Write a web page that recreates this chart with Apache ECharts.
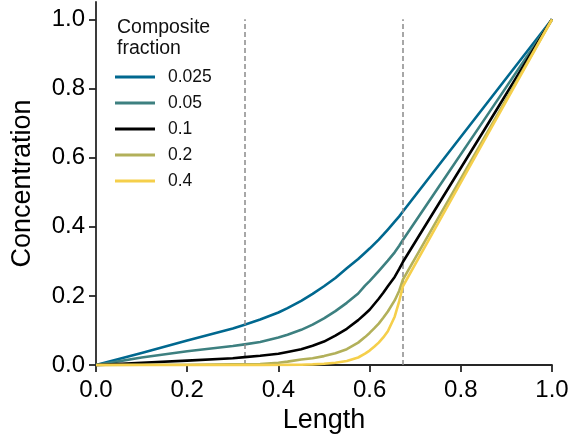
<!DOCTYPE html>
<html>
<head>
<meta charset="utf-8">
<script src="https://cdn.jsdelivr.net/npm/echarts@6/dist/echarts.min.js"></script>
<style>
  html, body { margin: 0; padding: 0; background: #fff; }
  #chart { width: 587px; height: 439px; }
</style>
</head>
<body>
<div id="chart"></div>
<script>
// sample positions along the length (shared by every curve)
const lengths = [0, 0.1, 0.2, 0.3, 0.326, 0.36, 0.4, 0.42, 0.45, 0.475, 0.5, 0.525, 0.55, 0.575, 0.59, 0.6, 0.61, 0.62, 0.63, 0.64, 0.655, 0.665, 0.673, 0.75, 0.85, 1.0];

// concentration, one array per composite fraction
const conc0025 = [0, 0.035, 0.071, 0.106, 0.117, 0.132, 0.152, 0.165, 0.186, 0.206, 0.228, 0.252, 0.28, 0.307, 0.325, 0.337, 0.350, 0.363, 0.377, 0.392, 0.415, 0.43, 0.444, 0.575, 0.745, 1.0];
const conc005  = [0, 0.022, 0.040, 0.055, 0.060, 0.067, 0.080, 0.088, 0.102, 0.117, 0.135, 0.156, 0.180, 0.207, 0.230, 0.243, 0.257, 0.272, 0.287, 0.302, 0.326, 0.345, 0.362, 0.512, 0.707, 1.0];
const conc01   = [0, 0.007, 0.013, 0.020, 0.023, 0.027, 0.033, 0.038, 0.046, 0.056, 0.068, 0.085, 0.105, 0.13, 0.148, 0.160, 0.176, 0.192, 0.209, 0.228, 0.255, 0.278, 0.298, 0.463, 0.677, 1.0];
const conc02   = [0, 0.001, 0.001, 0.002, 0.002, 0.003, 0.007, 0.010, 0.016, 0.020, 0.026, 0.034, 0.046, 0.065, 0.081, 0.093, 0.106, 0.12, 0.137, 0.155, 0.187, 0.215, 0.247, 0.424, 0.654, 1.0];
const conc04   = [0, 0, 0, 0, 0, 0, 0.0005, 0.0007, 0.001, 0.002, 0.004, 0.007, 0.012, 0.022, 0.033, 0.042, 0.053, 0.065, 0.080, 0.098, 0.14, 0.185, 0.228, 0.410, 0.646, 1.0];

const fractionNames = ['0.025', '0.05', '0.1', '0.2', '0.4'];
const fractionColors = ['#00688f', '#3d8080', '#000000', '#b2b05a', '#f5cf4b'];
const fractionValues = [conc0025, conc005, conc01, conc02, conc04];

// boundaries of the middle layer (dashed lines)
const boundaries = [0.326, 0.673];

const xTicks = [0, 0.2, 0.4, 0.6, 0.8, 1.0];
const yTicks = [0, 0.2, 0.4, 0.6, 0.8, 1.0];

const chart = echarts.init(document.getElementById('chart'), null, { renderer: 'canvas' });

const axisColor = '#262626';
const font = 'Liberation Sans, Arial, sans-serif';

const series = fractionNames.map((name, i) => ({
  name,
  type: 'line',
  symbol: 'none',
  lineStyle: { width: 2.6, color: fractionColors[i], join: 'round' },
  itemStyle: { color: fractionColors[i] },
  data: lengths.map((x, j) => [x, fractionValues[i][j]]),
  z: 3 + i,
}));

// dashed boundary lines, carried by the first series
series[0].markLine = {
  silent: true,
  symbol: 'none',
  label: { show: false },
  lineStyle: { color: '#8a8a8a', type: [5, 3], width: 1.5 },
  data: boundaries.map(b => [{ coord: [b, 0] }, { coord: [b, 1] }]),
};

const option = {
  animation: false,
  textStyle: { fontFamily: font },
  title: {
    text: 'Composite\nfraction',
    left: 112,
    top: 12,
    textStyle: { fontSize: 19.5, fontWeight: 'normal', color: '#111', lineHeight: 21, fontFamily: font },
  },
  legend: {
    orient: 'vertical',
    left: 110,
    top: 62,
    icon: 'rect',
    itemWidth: 40,
    itemHeight: 3,
    itemGap: 6,
    data: fractionNames,
    textStyle: { fontSize: 17.5, color: '#111', lineHeight: 20, padding: [0, 0, 0, 8], fontFamily: font },
  },
  grid: { left: 96, right: 35, top: 2, bottom: 73 },
  xAxis: {
    type: 'value',
    min: 0,
    max: 1,
    interval: 0.2,
    name: 'Length',
    nameLocation: 'middle',
    nameGap: 38,
    nameTextStyle: { fontSize: 27, color: '#000', fontFamily: font },
    splitLine: { show: false },
    axisLine: { lineStyle: { color: axisColor, width: 1.8 } },
    axisTick: { show: true, length: 7, lineStyle: { color: axisColor, width: 1.8 }, customValues: xTicks },
    axisLabel: { fontSize: 24, color: '#000', margin: 13, customValues: xTicks, formatter: v => v.toFixed(1) },
  },
  yAxis: {
    type: 'value',
    min: 0,
    max: 1.05,
    name: 'Concentration',
    nameLocation: 'middle',
    nameRotate: 90,
    nameGap: 60,
    nameTextStyle: { fontSize: 27, color: '#000', fontFamily: font },
    splitLine: { show: false },
    axisLine: { show: true, lineStyle: { color: axisColor, width: 1.8 } },
    axisTick: { show: true, length: 7, lineStyle: { color: axisColor, width: 1.8 }, customValues: yTicks },
    axisLabel: { fontSize: 24, color: '#000', margin: 11, customValues: yTicks, formatter: v => v.toFixed(1) },
  },
  series,
};

chart.setOption(option);
</script>
</body>
</html>
